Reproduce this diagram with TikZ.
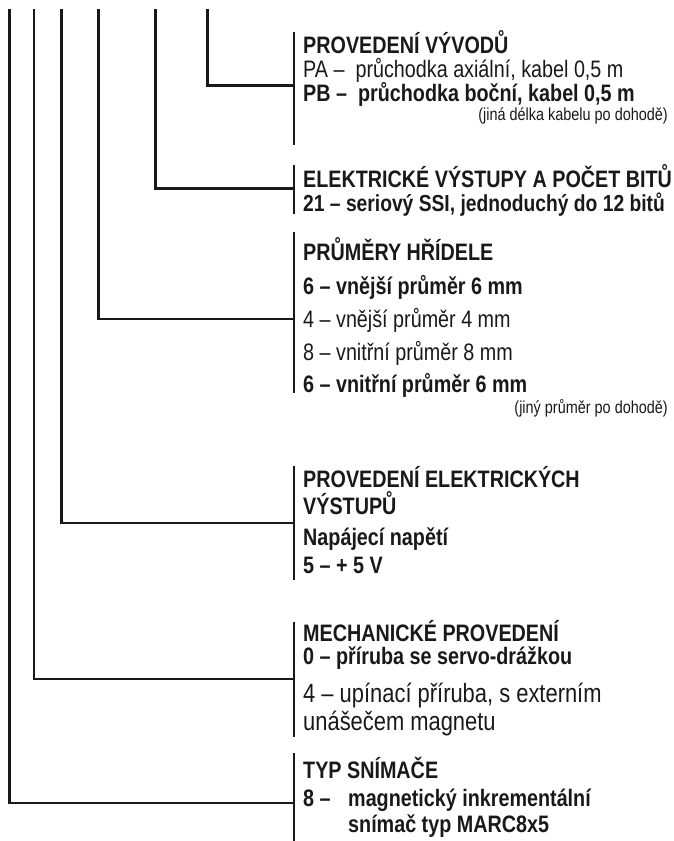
\documentclass[tikz,border=0pt]{standalone}
\usepackage{fontspec}
\setmainfont{Liberation Sans}[FakeStretch=0.83]
\newcommand{\fmain}{\fontsize{23.8}{28}\selectfont}
\newcommand{\fnarrow}{\fontsize{23.2}{28}\selectfont}
\newcommand{\fbig}{\fontsize{26.4}{30}\selectfont}
\newcommand{\fsmall}{\fontsize{17.4}{20}\selectfont}
\begin{document}
\begin{tikzpicture}[x=1pt,y=-1pt,
  conn/.style={line width=2.4pt,color=black!90},
  barline/.style={line width=2.4pt,color=black!90},
  txt/.style={anchor=base west,inner sep=0pt,font=\fmain,text=black!90},
  txtb/.style={txt,font=\fmain\bfseries},
  txtn/.style={txt,font=\fnarrow\bfseries},
  txtbig/.style={txt,font=\fbig},
  note/.style={anchor=base east,inner sep=0pt,font=\fsmall,text=black!90}]
\useasboundingbox (0,0) rectangle (673,841);
% connector tops
\coordinate (t1) at (9.3,9);
\coordinate (t2) at (33.7,9);
\coordinate (t3) at (61.5,9);
\coordinate (t4) at (98.3,9);
\coordinate (t5) at (155.5,9);
\coordinate (t6) at (207.3,9);
% junctions on bars
\coordinate (j6) at (294,85.3);
\coordinate (j5) at (294,188.3);
\coordinate (j4) at (294,319);
\coordinate (j3) at (294,523);
\coordinate (j2) at (294,678.7);
\coordinate (j1) at (294,802.7);
% bars
\coordinate (b1s) at (294,32);  \coordinate (b1e) at (294,145);
\coordinate (b2s) at (294,165); \coordinate (b2e) at (294,214);
\coordinate (b3s) at (294,232); \coordinate (b3e) at (294,393);
\coordinate (b4s) at (294,466); \coordinate (b4e) at (294,580);
\coordinate (b5s) at (294,622); \coordinate (b5e) at (294,737);
\coordinate (b6s) at (294,753); \coordinate (b6e) at (294,841);
\foreach \i in {1,...,6} {\draw[barline] (b\i s) -- (b\i e);}
\foreach \i in {1,...,6} {\draw[conn] (t\i) |- (j\i);}
% block 1
\node[txtb] (a1) at (303,53) {PROVEDENÍ VÝVODŮ};
\node[txt]  (a2) at (303,77) {PA –\ \ průchodka axiální, kabel 0,5 m};
\node[txtb] (a3) at (303,101) {PB –\ \ průchodka boční, kabel 0,5 m};
\node[note] (a4) at (668,120) {(jiná délka kabelu po dohodě)};
% block 2
\node[txtb] (c1) at (303,187) {ELEKTRICKÉ VÝSTUPY A POČET BITŮ};
\node[txtn] (c2) at (303,211) {21 – seriový SSI, jednoduchý do 12 bitů};
% block 3
\node[txtb] (d1) at (303,260) {PRŮMĚRY HŘÍDELE};
\node[txtb] (d2) at (303,294) {6 – vnější průměr 6 mm};
\node[txt]  (d3) at (303,327) {4 – vnější průměr 4 mm};
\node[txt]  (d4) at (303,360) {8 – vnitřní průměr 8 mm};
\node[txtb] (d5) at (303,392) {6 – vnitřní průměr 6 mm};
\node[note] (d6) at (668,413) {(jiný průměr po dohodě)};
% block 4
\node[txtb] (e1) at (303,487) {PROVEDENÍ ELEKTRICKÝCH};
\node[txtb] (e2) at (303,514) {VÝSTUPŮ};
\node[txtb] (e3) at (303,545) {Napájecí napětí};
\node[txtb] (e4) at (303,573) {5 – + 5 V};
% block 5
\node[txtb]   (f1) at (303,641) {MECHANICKÉ PROVEDENÍ};
\node[txtb]   (f2) at (303,664) {0 – příruba se servo-drážkou};
\node[txtbig] (f3) at (303,702) {4 – upínací příruba, s externím};
\node[txtbig] (f4) at (303,730) {unášečem magnetu};
% block 6
\node[txtb] (g1) at (303,778) {TYP SNÍMAČE};
\node[txtb] (g2) at (303,806) {8 –};
\node[txtb] (g3) at (348,806) {magnetický inkrementální};
\node[txtb] (g4) at (348,832) {snímač typ MARC8x5};
\end{tikzpicture}
\end{document}
